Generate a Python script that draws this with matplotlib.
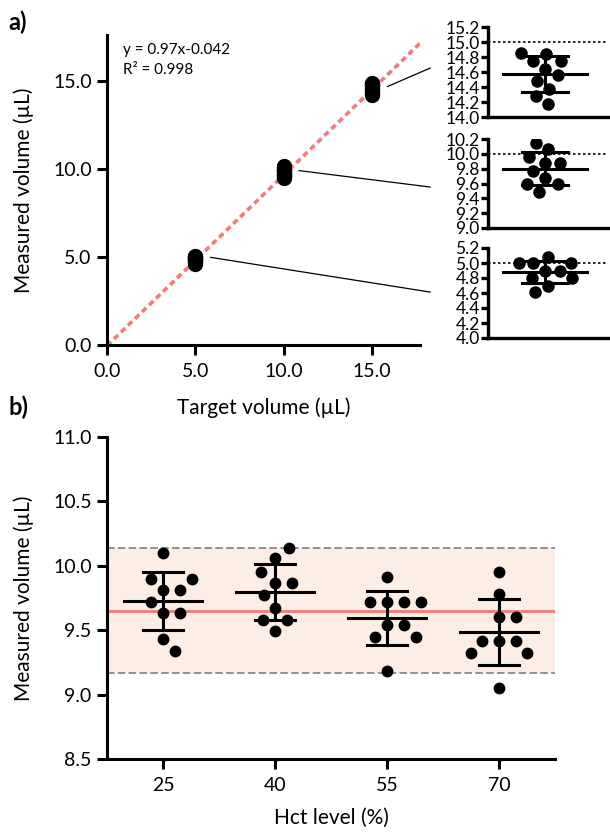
import matplotlib.pyplot as plt
import numpy as np
from matplotlib.patches import ConnectionPatch

plt.rcParams['font.family'] = ['Lato', 'DejaVu Sans']

# panel a: measured volume for each target volume (10 replicates)
targets = [5.0, 10.0, 15.0]
vol_5 = [5.08, 5.00, 5.00, 5.00, 4.89, 4.89, 4.80, 4.80, 4.70, 4.61]
vol_10 = [10.15, 10.06, 9.96, 9.87, 9.87, 9.77, 9.67, 9.59, 9.59, 9.49]
vol_15 = [14.85, 14.84, 14.75, 14.75, 14.64, 14.56, 14.48, 14.37, 14.28, 14.17]
fit_slope = 0.97
fit_intercept = -0.042
fit_r2 = 0.998

# panel b: measured volume (10 uL target) at each Hct level
hct_labels = ['25', '40', '55', '70']
hct_25 = [10.10, 9.90, 9.90, 9.81, 9.81, 9.72, 9.63, 9.63, 9.43, 9.34]
hct_40 = [10.14, 10.06, 9.95, 9.87, 9.87, 9.77, 9.67, 9.58, 9.58, 9.49]
hct_55 = [9.91, 9.72, 9.72, 9.72, 9.72, 9.54, 9.54, 9.45, 9.45, 9.18]
hct_70 = [9.95, 9.78, 9.60, 9.60, 9.42, 9.42, 9.42, 9.32, 9.32, 9.05]
band_pct = 0.05

RED = '#f47a7a'
DPI = 100
fig = plt.figure(figsize=(6.10, 8.32), dpi=DPI)
W, H = 610, 832


def px_axes(l, t, r, b):
    return fig.add_axes([l / W, 1 - b / H, (r - l) / W, (b - t) / H])


def style(ax, lw=2.2, tl=7, pad=4):
    for s in ['top', 'right']:
        ax.spines[s].set_visible(False)
    for s in ['left', 'bottom']:
        ax.spines[s].set_linewidth(lw)
    ax.tick_params(width=lw, length=tl, direction='out', colors='black', pad=pad)


def swarm(ax, vals, d):
    # simple beeswarm, offsets returned in pixels
    vals = np.asarray(vals)
    ypx = ax.transData.transform(np.column_stack([np.zeros(len(vals)), vals]))[:, 1]
    order = np.argsort(np.abs(vals - np.median(vals)), kind='stable')
    xs = np.zeros(len(vals))
    placed = []
    for i in order:
        cands = [0.0]
        for xj, yj in placed:
            dy = ypx[i] - yj
            if abs(dy) < d:
                dx = np.sqrt(d ** 2 - dy ** 2)
                cands += [xj + dx, xj - dx]
        cands.sort(key=abs)
        for c in cands:
            if all((c - xj) ** 2 + (ypx[i] - yj) ** 2 >= d ** 2 - 1e-6 for xj, yj in placed):
                xs[i] = c
                break
        placed.append((xs[i], ypx[i]))
    return xs


def px_per_unit(ax):
    return ax.transData.transform((1, 0))[0] - ax.transData.transform((0, 0))[0]


def dot_plot(ax, center, vals, d, ms, mean_hw, cap_hw, lw=2.2):
    ppu = px_per_unit(ax)
    offs = swarm(ax, vals, d) / ppu
    ax.plot(center + offs, vals, 'o', color='black', ms=ms, mec='black', zorder=3)
    m = np.mean(vals)
    sd = np.std(vals, ddof=1)
    ax.plot([center - mean_hw / ppu, center + mean_hw / ppu], [m, m], color='black', lw=lw, zorder=4)
    for y in [m - sd, m + sd]:
        ax.plot([center - cap_hw / ppu, center + cap_hw / ppu], [y, y], color='black', lw=lw, zorder=4)
    ax.plot([center, center], [m - sd, m + sd], color='black', lw=lw, zorder=4)


# ---------------- panel a ----------------
ax = px_axes(107, 35, 420, 345)
style(ax)
ax.tick_params(axis='x', pad=6)
ax.set_xlim(0, 17.7)
ax.set_ylim(0, 17.6)
xs = np.array([0, 17.7])
ax.plot(xs, fit_slope * xs + fit_intercept, color=RED, lw=2.6, dashes=(1.6, 1.1), zorder=2)
groups = [vol_5, vol_10, vol_15]
for t, v in zip(targets, groups):
    ax.plot([t] * len(v), v, 'o', color='black', ms=10, zorder=3)
ax.set_xticks([0, 5, 10, 15])
ax.set_yticks([0, 5, 10, 15])
ax.set_xticklabels(['%.1f' % t for t in [0, 5, 10, 15]], fontsize=14)
ax.set_yticklabels(['%.1f' % t for t in [0, 5, 10, 15]], fontsize=14)
ax.set_xlabel('Target volume (µL)', fontsize=15)
ax.set_ylabel('Measured volume (µL)', fontsize=15)
ax.xaxis.set_label_coords(0.5, -0.168)
ax.yaxis.set_label_coords(-0.232, 0.5)
ax.text(0.05, 0.975, 'y = %.2fx%.3f\nR² = %.3f' % (fit_slope, fit_intercept, fit_r2),
        transform=ax.transAxes, fontsize=11, va='top', ha='left', linespacing=1.55)

# insets
inset_boxes = [(488, 248, 608, 338), (488, 139, 608, 228), (488, 27, 608, 117)]
inset_lims = [(4.0, 5.2), (9.0, 10.2), (14.0, 15.2)]
conn_y = [0.51, 0.46, 0.545]
for t, v, box, lim, cy in zip(targets, groups, inset_boxes, inset_lims, conn_y):
    ai = px_axes(*box)
    style(ai, lw=2.4, tl=5, pad=1)
    ai.set_xlim(-57, 63)
    ai.set_ylim(*lim)
    ai.set_xticks([])
    ticks = np.arange(lim[0], lim[1] + 0.01, 0.2)
    ai.set_yticks(ticks)
    ai.set_yticklabels(['%.1f' % k for k in ticks], fontsize=12.5)
    ai.axhline(t, color='black', lw=1.2, ls=(0, (1.5, 1.5)), zorder=1)
    dot_plot(ai, 0, v, d=14.5, ms=8, mean_hw=42, cap_hw=23)
    con = ConnectionPatch(xyA=(t + 0.85, np.mean(v) + 0.1), coordsA=ax.transData,
                          xyB=(-0.48, cy), coordsB=ai.transAxes, color='black', lw=0.9)
    fig.add_artist(con)

fig.text(8 / W, 1 - 22 / H, 'a)', fontsize=17, fontweight='bold', va='center', ha='left')

# ---------------- panel b ----------------
bx = px_axes(107, 437, 555, 759)
style(bx)
bx.tick_params(axis='x', pad=6)
bx.set_xlim(-0.5, 3.5)
bx.set_ylim(8.5, 11.0)
hct_groups = [hct_25, hct_40, hct_55, hct_70]
ref = np.mean(np.concatenate(hct_groups))
bx.axhspan(ref * (1 - band_pct), ref * (1 + band_pct), color='#fdeee5', lw=0, zorder=0)
for yy in [ref * (1 - band_pct), ref * (1 + band_pct)]:
    bx.axhline(yy, color='#808080', lw=1.2, dashes=(4.5, 2), zorder=1)
bx.axhline(ref, color=RED, lw=2.0, zorder=1)
for i, v in enumerate(hct_groups):
    dot_plot(bx, i, v, d=17, ms=7.5, mean_hw=39, cap_hw=20)
bx.set_xticks(range(len(hct_labels)))
bx.set_xticklabels(hct_labels, fontsize=14)
yt = np.arange(8.5, 11.01, 0.5)
bx.set_yticks(yt)
bx.set_yticklabels(['%.1f' % k for k in yt], fontsize=14)
bx.set_xlabel('Hct level (%)', fontsize=15)
bx.set_ylabel('Measured volume (µL)', fontsize=15)
bx.xaxis.set_label_coords(0.5, -0.152)
bx.yaxis.set_label_coords(-0.162, 0.5)

fig.text(8 / W, 1 - 407 / H, 'b)', fontsize=17, fontweight='bold', va='center', ha='left')

fig.savefig('out.png', dpi=DPI)
